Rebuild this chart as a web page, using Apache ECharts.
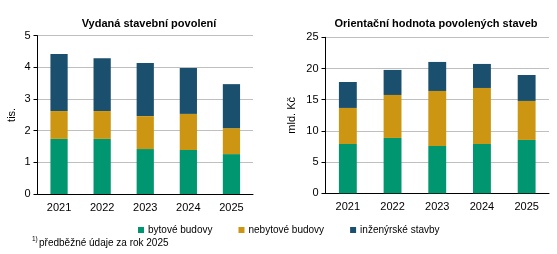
<!DOCTYPE html>
<html>
<head>
<meta charset="utf-8">
<script src="https://cdn.jsdelivr.net/npm/echarts@6/dist/echarts.min.js"></script>
<style>
  html, body { margin: 0; padding: 0; background: #fff; }
  #chart { width: 557px; height: 254px; }
</style>
</head>
<body>
<div id="chart"></div>
<script>
// roky
const years = ['2021', '2022', '2023', '2024', '2025'];

// Vydaná stavební povolení (tis.)
const permitsResidential = [1.74, 1.74, 1.42, 1.39, 1.26];
const permitsNonResidential = [0.88, 0.88, 1.04, 1.14, 0.82];
const permitsCivil = [1.80, 1.67, 1.68, 1.45, 1.39];

// Orientační hodnota povolených staveb (mld. Kč)
const valueResidential = [7.9, 8.87, 7.59, 7.9, 8.55];
const valueNonResidential = [5.78, 6.89, 8.81, 8.98, 6.25];
const valueCivil = [4.16, 4.01, 4.65, 3.85, 4.16];

const seriesNames = ['bytové budovy', 'nebytové budovy', 'inženýrské stavby'];
const colors = ['#00966F', '#CC9613', '#1B4F6E'];

const font = 'Liberation Sans, Arial, sans-serif';

const chart = echarts.init(document.getElementById('chart'));

const yAxisBase = (idx, max, interval, name, gap) => ({
  type: 'value',
  gridIndex: idx,
  min: 0,
  max: max,
  interval: interval,
  name: name,
  nameLocation: 'middle',
  nameGap: gap,
  nameTextStyle: { color: '#000', fontSize: 11, fontFamily: font },
  axisLine: { show: true, lineStyle: { color: '#000', width: 1 } },
  axisTick: { show: true, length: 4, lineStyle: { color: '#000' } },
  axisLabel: { color: '#000', fontSize: 11, fontFamily: font, margin: 7 },
  splitLine: { lineStyle: { color: '#BFBFBF', width: 1 } }
});

const xAxisBase = (idx) => ({
  type: 'category',
  gridIndex: idx,
  data: years,
  axisLine: { lineStyle: { color: '#000', width: 1 } },
  axisTick: { show: false },
  axisLabel: { color: '#000', fontSize: 11, fontFamily: font, margin: 8 }
});

const makeSeries = (idx, arr, k) => ({
  name: seriesNames[k],
  type: 'bar',
  stack: 'g' + idx,
  xAxisIndex: idx,
  yAxisIndex: idx,
  data: arr,
  barWidth: '40%',
  itemStyle: { color: colors[k] }
});

const option = {
  animation: false,
  title: [
    {
      text: 'Vydaná stavební povolení',
      left: 144, top: 13, textAlign: 'center',
      textStyle: { fontSize: 11, fontWeight: 'bold', color: '#000', fontFamily: font }
    },
    {
      text: 'Orientační hodnota povolených staveb',
      left: 431, top: 13, textAlign: 'center',
      textStyle: { fontSize: 11, fontWeight: 'bold', color: '#000', fontFamily: font }
    }
  ],
  legend: {
    data: seriesNames,
    left: 133,
    top: 220,
    icon: 'rect',
    itemWidth: 6,
    itemHeight: 6,
    itemGap: 26,
    textStyle: { fontSize: 10, color: '#000', fontFamily: font, padding: [0, 0, 0, -1] }
  },
  grid: [
    { left: 37.5, right: 304, top: 35.7, bottom: 60, containLabel: false },
    { left: 325.5, right: 8, top: 37.3, bottom: 60.7, containLabel: false }
  ],
  xAxis: [xAxisBase(0), xAxisBase(1)],
  yAxis: [
    yAxisBase(0, 5, 1, 'tis.', 20),
    yAxisBase(1, 25, 5, 'mld. Kč', 28)
  ],
  series: [
    makeSeries(0, permitsResidential, 0),
    makeSeries(0, permitsNonResidential, 1),
    makeSeries(0, permitsCivil, 2),
    makeSeries(1, valueResidential, 0),
    makeSeries(1, valueNonResidential, 1),
    makeSeries(1, valueCivil, 2)
  ],
  graphic: [
    {
      type: 'text', left: 32, top: 236,
      style: { text: '1)', fontSize: 6.5, fill: '#000', fontFamily: font }
    },
    {
      type: 'text', left: 39, top: 238,
      style: { text: 'předběžné údaje za rok 2025', fontSize: 10, fill: '#000', fontFamily: font }
    }
  ]
};

chart.setOption(option);
</script>
</body>
</html>
